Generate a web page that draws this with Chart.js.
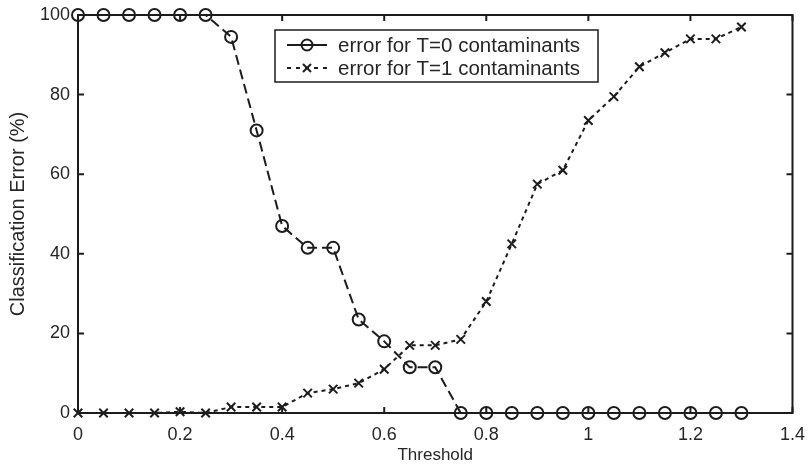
<!DOCTYPE html>
<html>
<head>
<meta charset="utf-8">
<script src="https://cdn.jsdelivr.net/npm/chart.js@4/dist/chart.umd.min.js"></script>
<style>
html,body{margin:0;padding:0;background:#fff;}
#wrap{width:808px;height:467px;position:relative;}
</style>
</head>
<body>
<div id="wrap"><canvas id="c" width="808" height="467"></canvas></div>
<script>
// ---- data ----
const thresholds = [0,0.05,0.1,0.15,0.2,0.25,0.3,0.35,0.4,0.45,0.5,0.55,0.6,0.65,0.7,0.75,0.8,0.85,0.9,0.95,1.0,1.05,1.1,1.15,1.2,1.25,1.3];
const errT0 = [100,100,100,100,100,100,94.5,71,47,41.5,41.5,23.5,18,11.5,11.5,0,0,0,0,0,0,0,0,0,0,0,0];
const errT1 = [0,0,0,0,0.3,0,1.5,1.5,1.5,5,6,7.5,11,17,17,18.5,28,42.5,57.5,61,73.5,79.5,87,90.5,94,94,97];
const seriesNames = ["error for T=0 contaminants","error for T=1 contaminants"];
const xTickLabels = ["0","0.2","0.4","0.6","0.8","1","1.2","1.4"];
const xTickValues = [0,0.2,0.4,0.6,0.8,1.0,1.2,1.4];
const yTickValues = [0,20,40,60,80,100];
const yTickLabels = ["0","20","40","60","80","100"];

const INK = '#1c1c1c';
const TXT = '#262626';
const FONT = 'Liberation Sans, Arial, sans-serif';

const ds = [
  {label: seriesNames[0], data: thresholds.map((x,i)=>({x, y: errT0[i]})),
   borderColor: INK, borderWidth: 2, borderDash: [10,5],
   pointStyle: 'circle', pointRadius: 6, pointBorderWidth: 2,
   pointBorderColor: INK, pointBackgroundColor: 'rgba(0,0,0,0)', clip: false, tension: 0},
  {label: seriesNames[1], data: thresholds.map((x,i)=>({x, y: errT1[i]})),
   borderColor: INK, borderWidth: 2, borderDash: [4,4],
   pointStyle: 'crossRot', pointRadius: 6, pointBorderWidth: 2,
   pointBorderColor: INK, pointBackgroundColor: INK, clip: false, tension: 0}
];

const frame = {
  id: 'frame',
  afterDraw(chart){
    const {ctx, chartArea: a, scales} = chart;
    ctx.save();
    ctx.strokeStyle = INK;
    ctx.lineWidth = 2;
    ctx.setLineDash([]);
    ctx.strokeRect(a.left, a.top, a.right - a.left, a.bottom - a.top);
    const L = 6;
    ctx.beginPath();
    xTickValues.forEach(v=>{
      const px = scales.x.getPixelForValue(v);
      ctx.moveTo(px, a.bottom); ctx.lineTo(px, a.bottom - L);
      ctx.moveTo(px, a.top); ctx.lineTo(px, a.top + L);
    });
    yTickValues.forEach(v=>{
      const py = scales.y.getPixelForValue(v);
      ctx.moveTo(a.left, py); ctx.lineTo(a.left + L, py);
      ctx.moveTo(a.right, py); ctx.lineTo(a.right - L, py);
    });
    ctx.stroke();

    // legend box
    const bx = 275, by = 30, bw = 323, bh = 52;
    ctx.fillStyle = '#fff';
    ctx.fillRect(bx, by, bw, bh);
    ctx.lineWidth = 1.5;
    ctx.strokeRect(bx, by, bw, bh);
    const rows = [by + 15, by + 38];
    chart.data.datasets.forEach((d, i)=>{
      const y = rows[i];
      ctx.strokeStyle = INK;
      ctx.lineWidth = 2;
      ctx.setLineDash(i === 0 ? [] : [4,5]);
      ctx.beginPath(); ctx.moveTo(287, y); ctx.lineTo(327, y); ctx.stroke();
      ctx.setLineDash([]);
      ctx.beginPath();
      if (i === 0) {
        ctx.arc(307, y, 5.5, 0, Math.PI*2);
      } else {
        ctx.moveTo(303, y-4); ctx.lineTo(311, y+4);
        ctx.moveTo(311, y-4); ctx.lineTo(303, y+4);
      }
      ctx.stroke();
      ctx.fillStyle = TXT;
      ctx.font = '20.5px ' + FONT;
      ctx.textBaseline = 'middle';
      ctx.textAlign = 'left';
      ctx.fillText(d.label, 338, y + 1);
    });
    ctx.restore();
  }
};

new Chart(document.getElementById('c'), {
  type: 'line',
  data: {datasets: ds},
  options: {
    responsive: false,
    animation: false,
    layout: {padding: {left: 0, right: 12, top: 15, bottom: 0}},
    plugins: {legend: {display: false}, tooltip: {enabled: false}},
    scales: {
      x: {
        type: 'linear', min: 0, max: 1.4,
        grid: {display: false}, border: {display: false},
        afterBuildTicks(s){ s.ticks = xTickValues.map(v=>({value: v})); },
        afterFit(s){ s.height = 54; },
        ticks: {
          padding: 3, color: TXT, font: {family: FONT, size: 18},
          maxRotation: 0, autoSkip: false,
          callback: (v)=>{ const i = xTickValues.findIndex(t=>Math.abs(t-v)<1e-9); return i>=0 ? xTickLabels[i] : ''; }
        },
        title: {display: true, text: 'Threshold', color: TXT, font: {family: FONT, size: 17}, padding: {top: 0, bottom: 1}}
      },
      y: {
        type: 'linear', min: 0, max: 100,
        grid: {display: false}, border: {display: false},
        afterBuildTicks(s){ s.ticks = yTickValues.map(v=>({value: v})); },
        afterFit(s){ s.width = 78; },
        ticks: {
          padding: 0, color: TXT, font: {family: FONT, size: 18},
          callback: (v)=>{ const i = yTickValues.indexOf(v); return i>=0 ? yTickLabels[i] : ''; }
        },
        title: {display: true, text: 'Classification Error (%)', color: TXT, font: {family: FONT, size: 20}, padding: {top: 6, bottom: 0}}
      }
    }
  },
  plugins: [frame]
});
</script>
</body>
</html>
